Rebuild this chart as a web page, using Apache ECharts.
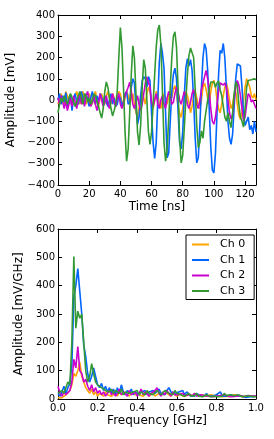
<!DOCTYPE html>
<html><head><meta charset="utf-8">
<script src="https://cdn.jsdelivr.net/npm/echarts@6/dist/echarts.min.js"></script>
<style>html,body{margin:0;padding:0;background:#fff}#c{width:274px;height:439px}</style>
</head><body><div id="c"></div>
<script>
const channelNames = ['Ch 0', 'Ch 1', 'Ch 2', 'Ch 3'];
const channelColors = ['#FFA500', '#0066FF', '#CC00CC', '#339933'];
const timeStepNs = 1;
const freqStepGHz = 0.01;

// Time-domain amplitude [mV], one sample per ns, t = 0..127
const ch0Time = [
 -20,10,30,0,-20,40,20,-10,10,-30,0,20,40,10,-20,30,
 40,10,-20,0,30,10,-20,20,40,0,-30,10,30,0,-20,20,
 40,10,-20,30,10,-30,0,40,30,-10,-30,10,40,20,-20,10,
 30,-20,-60,-82,-40,20,40,10,-20,30,60,40,-10,-40,0,40,
 30,-20,-40,0,30,10,-20,20,40,10,50,68,30,-30,-60,-82,
 -40,10,40,20,-10,-60,-30,20,40,10,-30,-40,0,60,80,50,
 10,-20,40,80,92,60,0,-40,-60,-20,20,60,80,50,0,-40,
 -20,30,40,-20,-70,-90,-60,0,60,100,100,60,20,10,30,0];
const ch1Time = [
 0,30,-20,20,-10,35,-30,-10,20,-50,10,30,-10,-20,20,40,
 10,-20,30,0,-30,10,40,0,-20,20,-10,30,10,-20,20,-10,
 -30,0,30,-20,10,-30,-20,20,10,-30,-10,30,40,-20,-10,60,
 100,80,-30,-114,-80,20,90,110,100,60,110,90,-60,-200,-275,-200,
 0,180,266,220,150,-60,-272,-250,-100,40,120,150,100,-50,-200,-230,
 -150,20,150,195,160,190,140,0,-180,-296,-270,-120,60,200,266,240,
 140,-40,-220,-330,-343,-250,-60,120,234,220,266,200,60,-100,-180,-209,
 -160,-30,100,170,179,160,60,-60,-120,-100,-80,-140,-120,-160,-100,-150];
const ch2Time = [
 10,-20,20,-10,-40,0,-50,-20,10,-30,20,-10,-40,0,30,-20,
 10,-30,20,40,0,-30,-10,20,-20,-50,-10,30,0,-30,-10,20,
 -20,-40,0,30,-10,-30,10,30,-20,-40,-10,20,40,60,84,40,
 -20,-40,-10,20,-20,-50,-20,30,80,108,100,60,-10,-30,0,30,
 -20,-40,0,20,-20,-40,10,40,20,-20,-10,30,60,40,0,-20,
 10,40,20,-20,-40,-10,30,50,20,-20,-40,0,50,80,110,139,
 100,40,-40,-100,-114,-80,-20,40,80,84,70,80,60,0,-60,-90,
 -70,0,60,92,70,20,-40,-98,-80,-20,30,20,-10,0,-20,-40];
const ch3Time = [
 -60,-20,10,-10,20,0,-20,10,30,10,-10,-30,-10,20,40,10,
 -20,30,20,-10,10,-20,0,30,20,-10,-30,-60,-85,-40,40,85,
 60,10,-40,-75,-50,-20,40,200,341,250,60,-150,-288,-230,-60,120,
 255,200,30,-150,-212,-120,60,190,150,0,-150,-209,-150,-20,120,250,
 330,353,260,40,-200,-288,-230,-90,60,200,300,321,250,60,-180,-296,
 -260,-130,0,120,210,245,250,200,50,-120,-225,-200,-145,-180,-100,-50,
 0,50,85,90,85,60,80,90,50,20,-30,-80,-100,-60,-100,-130,
 -60,30,84,70,-20,-80,-100,-127,-40,60,92,100,95,100,100,95];

// Spectrum amplitude [mV/GHz], f = 0.00..1.00 GHz in 0.01 steps
const ch0Freq = [
 5,10,5,10,15,20,30,50,90,80,100,130,80,60,40,30,20,35,15,25,10,
 20,15,10,25,15,20,10,15,20,10,25,15,10,20,15,10,20,25,15,10,
 15,20,10,15,25,10,15,20,10,15,20,25,15,10,20,15,10,20,15,10,
 15,20,10,15,12,20,15,10,20,15,12,10,15,20,10,12,15,10,12,8,
 10,12,8,15,10,12,8,10,15,8,12,10,8,12,10,8,10,12,10,8];
const ch1Freq = [
 20,10,25,45,20,40,55,120,360,400,460,380,300,190,150,90,60,80,110,105,50,
 40,55,30,45,25,40,20,35,15,40,20,50,25,15,30,20,35,15,25,30,
 15,25,20,30,15,25,20,30,20,15,35,20,25,15,30,40,25,30,20,15,
 25,20,30,15,25,20,10,15,10,20,15,10,15,10,20,10,15,10,5,15,
 10,25,10,15,10,5,15,20,10,15,10,5,10,15,5,10,8,12,8,10];
const ch2Freq = [
 45,20,10,25,15,20,30,60,140,110,185,100,90,60,70,45,30,50,25,40,20,
 30,15,25,10,20,30,15,25,10,20,35,15,25,20,10,30,15,20,25,10,
 20,35,15,25,20,10,20,15,30,40,20,10,25,15,30,20,10,25,15,20,
 15,10,20,12,8,15,10,12,20,10,8,15,10,12,8,10,15,8,12,10,
 8,12,10,15,8,10,12,8,15,10,8,12,10,8,10,12,8,10,12,10];
const ch3Freq = [
 20,15,30,20,40,60,50,200,503,250,310,285,300,200,100,60,80,125,90,60,50,
 55,40,45,30,35,25,35,20,30,25,20,35,15,25,30,20,15,25,20,30,
 15,25,20,15,30,20,25,15,20,30,25,15,20,30,35,20,25,15,30,20,
 25,15,20,10,15,20,10,15,12,20,10,15,8,12,15,10,8,15,10,12,
 8,15,10,20,12,8,15,10,12,8,15,10,8,12,10,8,10,12,8,10];

const timeTicks = {min: 0, max: 127, interval: 20};
const ampTicks = {min: -400, max: 400, interval: 100};
const freqTicks = {min: 0, max: 1, interval: 0.2};
const specTicks = {min: 0, max: 600, interval: 100};

const FONT = 'DejaVu Sans';
const timeSeries = [ch0Time, ch1Time, ch2Time, ch3Time];
const freqSeries = [ch0Freq, ch1Freq, ch2Freq, ch3Freq];
const minus = v => String(v).replace('-', '\u2212');

function mkAxis(gridIndex, ticks, opts) {
  return Object.assign({
    type: 'value', gridIndex: gridIndex,
    min: ticks.min, max: ticks.max, interval: ticks.interval,
    axisLine: {show: true, onZero: false, lineStyle: {color: '#000', width: 1}},
    axisTick: {show: true, inside: true, length: 4, lineStyle: {color: '#000', width: 1}},
    splitLine: {show: false},
    axisLabel: {show: true, color: '#000', fontFamily: FONT, fontSize: 10, margin: 4, showMaxLabel: ticks.max % ticks.interval < 1e-9 || Math.abs(ticks.max % ticks.interval - ticks.interval) < 1e-9},
    nameTextStyle: {color: '#000', fontFamily: FONT, fontSize: 12}
  }, opts || {});
}
function mirror(a, pos) {
  const m = JSON.parse(JSON.stringify(a));
  m.position = pos; m.axisLabel = {show: false}; delete m.name;
  return m;
}

const xTime = mkAxis(0, timeTicks, {name: 'Time [ns]', nameLocation: 'middle', nameGap: 16});
xTime.axisLabel.formatter = v => (v % 20 === 0 ? minus(v) : '');
const xFreq = mkAxis(1, freqTicks, {name: 'Frequency [GHz]', nameLocation: 'middle', nameGap: 16});
xFreq.axisLabel.formatter = v => v.toFixed(1);
const yTime = mkAxis(0, ampTicks, {name: 'Amplitude [mV]', nameLocation: 'middle', nameGap: 35});
yTime.axisLabel.formatter = v => minus(v);
yTime.axisLabel.margin = 3;
const yFreq = mkAxis(1, specTicks, {name: 'Amplitude [mV/GHz]', nameLocation: 'middle', nameGap: 27});
yFreq.axisLabel.margin = 3;

const xAxes = [xTime, xFreq, mirror(xTime, 'top'), mirror(xFreq, 'top')];
xAxes[0].position = 'bottom'; xAxes[1].position = 'bottom';
const yAxes = [yTime, yFreq, mirror(yTime, 'right'), mirror(yFreq, 'right')];
yAxes[0].position = 'left'; yAxes[1].position = 'left';

const series = [];
timeSeries.forEach((arr, k) => series.push({
  name: channelNames[k], type: 'line', xAxisIndex: 0, yAxisIndex: 0,
  data: arr.map((v, i) => [i * timeStepNs, v]), showSymbol: false, symbol: 'none',
  lineStyle: {color: channelColors[k], width: 1.6}, itemStyle: {color: channelColors[k]},
  animation: false, silent: true, z: 2 + k
}));
freqSeries.forEach((arr, k) => series.push({
  name: channelNames[k], type: 'line', xAxisIndex: 1, yAxisIndex: 1,
  data: arr.map((v, i) => [+(i * freqStepGHz).toFixed(2), v]), showSymbol: false, symbol: 'none',
  lineStyle: {color: channelColors[k], width: 1.6}, itemStyle: {color: channelColors[k]},
  animation: false, silent: true, z: 2 + k
}));

const chart = echarts.init(document.getElementById('c'), null, {renderer: 'canvas'});
chart.setOption({
  animation: false,
  backgroundColor: '#fff',
  grid: [
    {left: 58, top: 15, width: 198, height: 170, containLabel: false, outerBoundsMode: 'none'},
    {left: 58, top: 229, width: 198, height: 170, containLabel: false, outerBoundsMode: 'none'}
  ],
  xAxis: xAxes,
  yAxis: yAxes,
  legend: {
    data: channelNames, orient: 'vertical', left: 186, top: 235,
    backgroundColor: '#fff', borderColor: '#000', borderWidth: 1, borderRadius: 0,
    padding: [3, 9, 2, 6], itemGap: 2.5,
    icon: 'rect', itemWidth: 17, itemHeight: 2,
    textStyle: {color: '#000', fontFamily: FONT, fontSize: 11, lineHeight: 13, padding: [0, 0, 0, 6]},
    selectedMode: false
  },
  series: series
});
</script></body></html>
